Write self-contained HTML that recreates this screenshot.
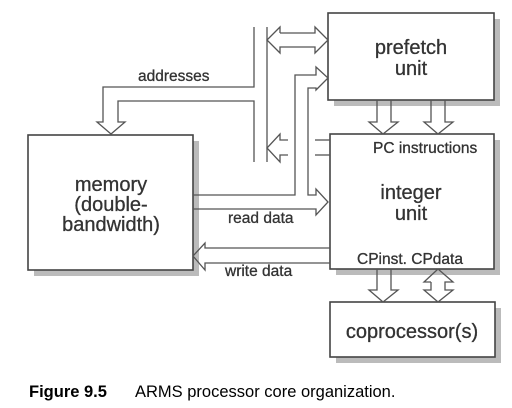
<!DOCTYPE html>
<html><head><style>
html,body{margin:0;padding:0;background:#fff;}
svg{display:block;}
text{font-family:"Liberation Sans",sans-serif;fill:#333;stroke:#333;stroke-width:0.3;}
</style></head><body>
<svg width="512" height="408" viewBox="0 0 512 408" xmlns="http://www.w3.org/2000/svg">
<g fill="#bbb">
<rect x="334" y="19" width="166" height="87"/>
<rect x="34" y="141" width="165" height="135"/>
<rect x="336" y="140" width="164" height="135"/>
<rect x="336" y="308" width="165" height="55"/>
</g>
<g fill="#fff" stroke="#444" stroke-width="1.6">
<rect x="328" y="13" width="166" height="87"/>
<rect x="28" y="135" width="165" height="135"/>
<rect x="330" y="134" width="164" height="135"/>
<rect x="330" y="302" width="165" height="55"/>
</g>
<g fill="none" stroke="#555" stroke-width="1.3">
<polyline points="254,27 254,87 103,87 103,122 97,122 111,134 125,122 118,122 118,101 254,101 254,162"/>
<line x1="267" y1="27" x2="267" y2="162"/>
<polyline points="280,33 315,33 315,27 328,40 315,53 315,47 280,47 280,53 267,40 280,27 280,33"/>
<polyline points="288,140 280,140 280,134 267,148 280,162 280,155 288,155"/>
<line x1="315" y1="140" x2="330" y2="140"/>
<line x1="315" y1="155" x2="330" y2="155"/>
<polyline points="193,195 295,195 295,75 316,75 316,67 328,78 316,90 316,88 308,88 308,189"/>
<polyline points="308,189 308,195 316,195 316,189 328,202 316,215 316,209 193,209"/>
<polyline points="330,248 205,248 205,243 193,256 205,270 205,263 330,263"/>
<polyline points="377,100 377,122 369,122 383,134 398,122 391,122 391,100"/>
<polyline points="431,100 431,122 424,122 438,134 453,122 445,122 445,100"/>
<polyline points="377,269 377,290 369,290 383,302 398,290 391,290 391,269"/>
<polyline points="431,282 431,290 424,290 438,302 453,290 445,290 445,282 453,282 438,269 424,282 431,282"/>
</g>
<g font-size="20" text-anchor="middle">
<text x="411" y="54">prefetch</text>
<text x="411" y="75">unit</text>
<text x="411" y="199">integer</text>
<text x="411" y="220">unit</text>
<text x="111" y="191">memory</text>
<text x="111" y="211">(double-</text>
<text x="111" y="231">bandwidth)</text>
<text x="412" y="338">coprocessor(s)</text>
</g>
<g font-size="15.5">
<text x="138" y="81">addresses</text>
<text x="228" y="223">read data</text>
<text x="225" y="276">write data</text>
<text x="373" y="153">PC instructions</text>
<text x="357" y="264">CPinst. CPdata</text>
</g>
<text x="29" y="397" font-size="16.5" font-weight="bold" style="fill:#000;stroke:none">Figure 9.5</text>
<text x="135" y="397" font-size="16.5" style="fill:#000;stroke:none">ARMS processor core organization.</text>
</svg>
</body></html>
